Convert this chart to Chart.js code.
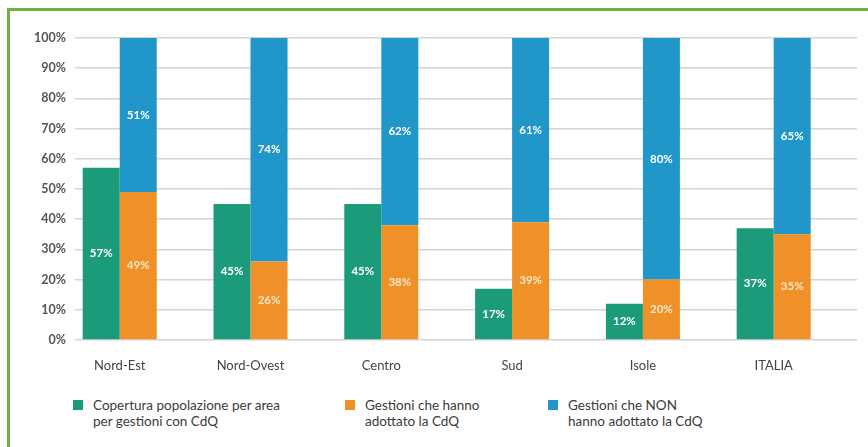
<!DOCTYPE html>
<html>
<head>
<meta charset="utf-8">
<script src="https://cdn.jsdelivr.net/npm/chart.js@4"></script>
<style>
  html, body { margin: 0; padding: 0; background: #fff; }
  body { width: 868px; height: 447px; position: relative; overflow: hidden; font-family: Lato, sans-serif; }
  .frame { position: absolute; left: 7px; top: 8px; width: 900px; height: 460px;
           border-left: 3px solid #6db340; border-top: 3px solid #6db340; pointer-events: none; }
  .chart-box { position: absolute; left: 0; top: 0; width: 868px; height: 380px; }
  .legend-item { position: absolute; top: 397px; display: flex; font-size: 13.5px; line-height: 16px; color: #3b3b3b; }
  .legend-item .swatch { width: 10px; height: 10px; margin-top: 3px; margin-right: 10px; flex: none; }
</style>
</head>
<body>
<div class="chart-box"><canvas id="chart" width="868" height="380"></canvas></div>
<div id="legend"></div>
<div class="frame"></div>
<script>
const categories = ['Nord-Est', 'Nord-Ovest', 'Centro', 'Sud', 'Isole', 'ITALIA'];
const copertura = [57, 45, 45, 17, 12, 37];
const adottato = [49, 26, 38, 39, 20, 35];
const nonAdottato = [51, 74, 62, 61, 80, 65];
const yTicks = [0, 10, 20, 30, 40, 50, 60, 70, 80, 90, 100];

const seriesLabels = [
    ['Copertura popolazione per area', 'per gestioni con CdQ'],
    ['Gestioni che hanno', 'adottato la CdQ'],
    ['Gestioni che NON', 'hanno adottato la CdQ']
];
const seriesColors = ['#1c9b7b', '#ef9128', '#2196c9'];
const labelColors = ['#ffffff', '#fde6c8', '#ffffff'];
const legendLeft = [73, 345, 548];

// points on the linear x scale, one per category
const toPoints = (values) => values.map((v, i) => ({ x: i, y: v }));

// draws the value in the middle of each bar
const barLabels = {
    id: 'barLabels',
    afterDatasetsDraw(chart) {
        const ctx = chart.ctx;
        ctx.save();
        ctx.font = 'bold 11.5px Lato, sans-serif';
        ctx.textAlign = 'center';
        ctx.textBaseline = 'middle';
        chart.data.datasets.forEach((ds, di) => {
            const meta = chart.getDatasetMeta(di);
            meta.data.forEach((bar, i) => {
                ctx.fillStyle = labelColors[di];
                ctx.fillText(ds.data[i].y + '%', bar.x, (bar.y + bar.base) / 2);
            });
        });
        ctx.restore();
    }
};

new Chart(document.getElementById('chart'), {
    type: 'bar',
    data: {
        datasets: [
            { label: seriesLabels[0].join(' '), data: toPoints(copertura), backgroundColor: seriesColors[0], stack: 'copertura' },
            { label: seriesLabels[1].join(' '), data: toPoints(adottato), backgroundColor: seriesColors[1], stack: 'gestioni' },
            { label: seriesLabels[2].join(' '), data: toPoints(nonAdottato), backgroundColor: seriesColors[2], stack: 'gestioni' }
        ]
    },
    options: {
        responsive: false,
        animation: false,
        categoryPercentage: 0.566,
        barPercentage: 1,
        layout: { padding: { left: 0, right: 11, top: 38, bottom: 0 } },
        plugins: {
            legend: { display: false },
            tooltip: { enabled: false }
        },
        scales: {
            x: {
                type: 'linear',
                offset: false,
                min: -0.342,
                max: 5.637,
                afterBuildTicks: (scale) => { scale.ticks = categories.map((c, i) => ({ value: i })); },
                afterFit: (scale) => { scale.height = 40; },
                grid: { display: false },
                border: { display: false },
                ticks: {
                    padding: 10,
                    color: '#444',
                    font: { family: 'Lato, sans-serif', size: 13 },
                    callback: (v) => categories[v]
                }
            },
            y: {
                stacked: true,
                min: 0,
                max: 100,
                afterBuildTicks: (scale) => { scale.ticks = yTicks.map(v => ({ value: v })); },
                afterFit: (scale) => { scale.width = 75; },
                grid: { color: '#d4d4d4', lineWidth: 1.6, drawTicks: false },
                border: { display: false },
                ticks: {
                    padding: 9,
                    color: '#555',
                    font: { family: 'Lato, sans-serif', size: 12.5, weight: 'bold' },
                    callback: (v) => v + '%'
                }
            }
        }
    },
    plugins: [barLabels]
});

// legend below the chart, two lines per item
const legend = document.getElementById('legend');
seriesLabels.forEach((lines, i) => {
    const item = document.createElement('div');
    item.className = 'legend-item';
    item.style.left = legendLeft[i] + 'px';
    item.innerHTML = `<div class="swatch" style="background:${seriesColors[i]}"></div><div>${lines.join('<br>')}</div>`;
    legend.appendChild(item);
});
</script>
</body>
</html>
